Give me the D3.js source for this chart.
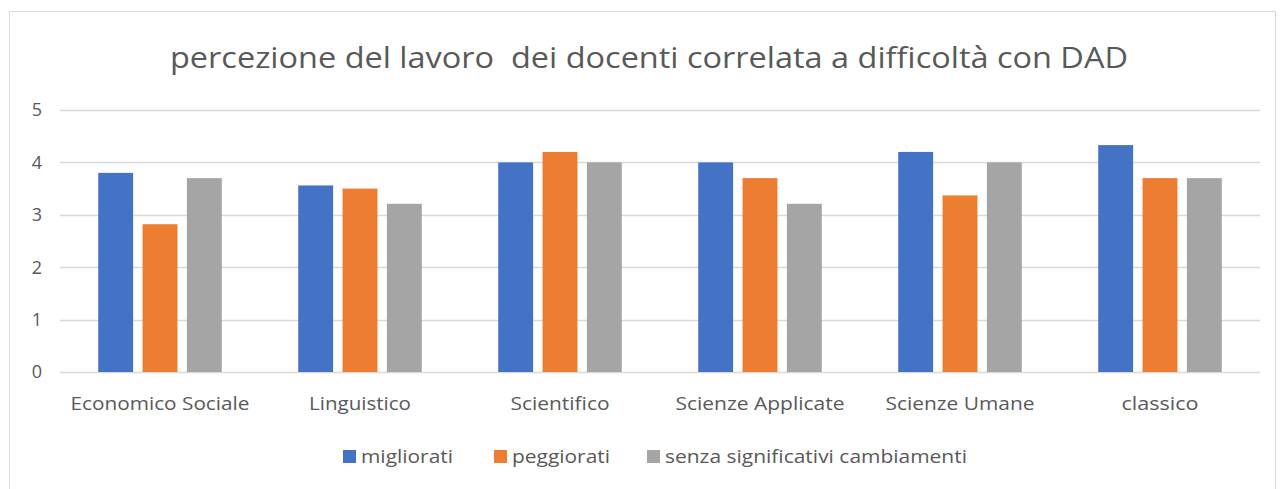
<!DOCTYPE html>
<html>
<head>
<meta charset="utf-8">
<script src="https://cdnjs.cloudflare.com/ajax/libs/d3/7.8.5/d3.min.js"></script>
<style>
  body { margin: 0; background: #fff; }
  svg { display: block; font-family: "Open Sans", "Noto Sans", sans-serif; }
  .title { white-space: pre; }
</style>
</head>
<body>
<svg width="1280" height="489"></svg>
<script>
var categories = ["Economico Sociale", "Linguistico", "Scientifico", "Scienze Applicate", "Scienze Umane", "classico"];
var seriesNames = ["migliorati", "peggiorati", "senza significativi cambiamenti"];
var migliorati = [3.8, 3.56, 4.0, 4.0, 4.2, 4.33];
var peggiorati = [2.82, 3.5, 4.2, 3.7, 3.37, 3.7];
var senzaCambiamenti = [3.7, 3.21, 4.0, 3.21, 4.0, 3.7];
var yTicks = [0, 1, 2, 3, 4, 5];
var colors = ["#4472C4", "#ED7D31", "#A5A5A5"];

var values = [migliorati, peggiorati, senzaCambiamenti];

var svg = d3.select("svg");

// chart border
svg.append("rect")
   .attr("x", 9.5).attr("y", 11.5)
   .attr("width", 1266).attr("height", 490)
   .attr("fill", "none")
   .attr("stroke", "#d9d9d9");

var plotLeft = 60, plotRight = 1260, plotTop = 110, plotBottom = 372;

var x = d3.scaleBand()
          .domain(categories)
          .range([plotLeft, plotRight]);

// excel style: gap width 219%, overlap -27%
var barW = x.bandwidth() / (3 + 2 * 0.27 + 2.19);
var step = barW * 1.27;

var y = d3.scaleLinear()
          .domain([0, 5])
          .range([plotBottom, plotTop]);

// gridlines
svg.append("g")
   .selectAll("line")
   .data(yTicks)
   .enter().append("line")
   .attr("x1", plotLeft).attr("x2", plotRight)
   .attr("y1", function(d) { return Math.round(y(d)) + 0.5; })
   .attr("y2", function(d) { return Math.round(y(d)) + 0.5; })
   .attr("stroke", "#d9d9d9")
   .attr("stroke-width", 1.5);

// y labels
svg.append("g")
   .selectAll("text")
   .data(yTicks)
   .enter().append("text")
   .attr("x", 37)
   .attr("y", function(d) { return y(d); })
   .attr("dy", "0.35em")
   .attr("text-anchor", "middle")
   .attr("font-size", 18)
   .attr("fill", "#595959")
   .text(function(d) { return d; });

// bars
var groups = svg.append("g")
   .selectAll("g")
   .data(values)
   .enter().append("g")
   .attr("fill", function(d, i) { return colors[i]; });

groups.each(function(series, si) {
    d3.select(this).selectAll("rect")
      .data(series)
      .enter().append("rect")
      .attr("x", function(d, i) {
          return x(categories[i]) + x.bandwidth() / 2 + (si - 1) * step - barW / 2;
      })
      .attr("y", function(d) { return y(d); })
      .attr("width", barW)
      .attr("height", function(d) { return y(0) - y(d); });
});

// category labels (reference font runs wider than Open Sans)
var labelW = [179, 102, 99, 169, 149, 77];
svg.append("g")
   .selectAll("text")
   .data(categories)
   .enter().append("text")
   .attr("x", function(d) { return x(d) + x.bandwidth() / 2; })
   .attr("y", 410)
   .attr("text-anchor", "middle")
   .attr("font-size", 19)
   .attr("fill", "#595959")
   .attr("textLength", function(d, i) { return labelW[i]; })
   .attr("lengthAdjust", "spacingAndGlyphs")
   .text(function(d) { return d; });

// title
svg.append("text")
   .attr("class", "title")
   .attr("x", 649)
   .attr("y", 68)
   .attr("text-anchor", "middle")
   .attr("font-size", 29)
   .attr("fill", "#595959")
   .attr("textLength", 958)
   .attr("lengthAdjust", "spacingAndGlyphs")
   .text("percezione del lavoro  dei docenti correlata a difficoltà con DAD");

// legend
var legendX = [343, 494, 647];
var legendW = [92, 98, 302];
var legend = svg.append("g")
   .selectAll("g")
   .data(seriesNames)
   .enter().append("g")
   .attr("transform", function(d, i) { return "translate(" + legendX[i] + ",450)"; });

legend.append("rect")
   .attr("width", 13).attr("height", 13)
   .attr("fill", function(d, i) { return colors[i]; });

legend.append("text")
   .attr("x", 18)
   .attr("y", 13)
   .attr("font-size", 18)
   .attr("fill", "#595959")
   .attr("textLength", function(d, i) { return legendW[i]; })
   .attr("lengthAdjust", "spacingAndGlyphs")
   .text(function(d) { return d; });
</script>
</body>
</html>
